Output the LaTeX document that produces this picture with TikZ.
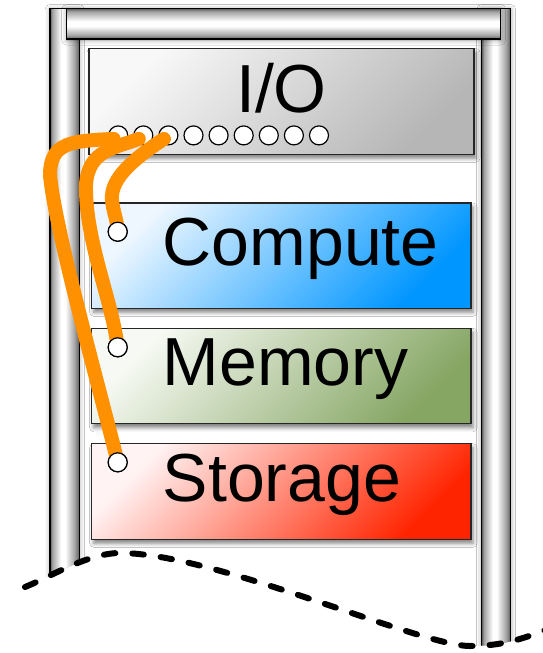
\documentclass[tikz,border=0pt]{standalone}
\usepackage{fontspec}
\setmainfont{Liberation Sans}
\usetikzlibrary{shadows.blur}

% colours
\definecolor{raildark}{gray}{0.36}
\definecolor{railmid}{gray}{0.64}
\definecolor{cableorange}{RGB}{255,145,0}
\definecolor{boxline}{RGB}{38,38,38}
\definecolor{ioLight}{RGB}{248,248,248}
\definecolor{ioDark}{RGB}{182,182,182}
\definecolor{cpLight}{RGB}{238,247,255}
\definecolor{cpDark}{RGB}{0,150,255}
\definecolor{memLight}{RGB}{247,250,244}
\definecolor{memDark}{RGB}{134,166,100}
\definecolor{stLight}{RGB}{255,243,243}
\definecolor{stDark}{RGB}{255,36,0}

% cylindrical look of the rack rails (interesting part is 25bp..75bp)
\pgfdeclarehorizontalshading{railx}{100bp}{color(0bp)=(raildark); color(25bp)=(raildark); color(29bp)=(railmid); color(44bp)=(white); color(51bp)=(white); color(67bp)=(railmid); color(75bp)=(raildark); color(100bp)=(raildark)}
\pgfdeclareverticalshading{raily}{100bp}{color(0bp)=(raildark); color(25bp)=(raildark); color(31bp)=(railmid); color(46bp)=(white); color(54bp)=(white); color(70bp)=(railmid); color(75bp)=(raildark); color(100bp)=(raildark)}

\begin{document}
\begin{tikzpicture}[x=1pt,y=-1pt,
  railpart/.style={draw=black, line width=1.3pt, shade},
  railshadow/.style={blur shadow={shadow xshift=0pt, shadow yshift=-1pt, shadow blur radius=5pt, shadow opacity=40}},
  module/.style={rectangle, draw=boxline, line width=1.4pt, inner sep=0pt,
    blur shadow={shadow xshift=2pt, shadow yshift=-4pt, shadow blur radius=4pt, shadow opacity=50}},
  port/.style={circle, draw=black, fill=white, line width=1.2pt, minimum size=19pt, inner sep=0pt},
  cable/.style={draw=cableorange, line width=14pt, line cap=round},
  modtext/.style={font=\fontsize{68}{80}\selectfont, inner sep=0pt, text=black},
  cutline/.style={draw=black, line width=6pt, line cap=round, dash pattern=on 11.5pt off 17pt}]

\useasboundingbox (0,0) rectangle (543,653);
\fill[white] (0,0) rectangle (543,653);

\begin{scope}
  % the rack is cut off along the wavy line
  \clip (0,0) -- (546,0) -- (546,630)
    .. controls (520,640) and (500,646) .. (470,646)
    .. controls (420,646) and (215,553) .. (120,553)
    .. controls (88,553) and (50,577) .. (25,587) -- (0,600) -- cycle;

  % back panel
  \fill[white] (79.3,39) rectangle (481.7,653);

  % rails and top bar
  \path[railpart, shading=railx, railshadow] (50,8.5) rectangle (79.3,653);
  \path[railpart, shading=railx, railshadow] (481.7,8.5) rectangle (510.7,653);
  \path[railpart, shading=raily, railshadow] (66.7,8.5) rectangle (500.7,39);

  % modules
  \node[module, minimum width=385pt, minimum height=105.8pt,
        top color=ioLight, bottom color=ioDark, shading angle=45] (io) at (281.5,101.4) {};
  \node[module, minimum width=379.3pt, minimum height=105.3pt,
        top color=cpLight, bottom color=cpDark, shading angle=45] (cp) at (281.35,255.65) {};
  \node[module, minimum width=379.3pt, minimum height=95.5pt,
        top color=memLight, bottom color=memDark, shading angle=45] (mem) at (281.35,376) {};
  \node[module, minimum width=379.3pt, minimum height=95.6pt,
        top color=stLight, bottom color=stDark, shading angle=45] (st) at (281.35,491.5) {};
\end{scope}

% labels
\node[modtext, anchor=base] (iotext) at (281.5,112.3) {I/O};
\node[modtext, anchor=base west] (cptext) at (162.6,265.9) {Compute};
\node[modtext, anchor=base west] (memtext) at (162.6,385) {Memory};
\node[modtext, anchor=base west] (sttext) at (162.6,501.9) {Storage};

% I/O ports
\foreach \i in {1,...,9}
  \node[port] (io\i) at ({118.2+25.1*(\i-1)},135.4) {};

% module ports
\node[port] (cpport) at (117.7,231.7) {};
\node[port] (memport) at (117.7,347.3) {};
\node[port] (stport) at (117.7,462.3) {};

% cables
\draw[cable] ([shift={(-4.5,3.5)}]io1.center)
  .. controls (72,141) and (50,142) .. (50,175)
  .. controls (55,230) and (100,390) .. (stport.center);
\draw[cable] ([shift={(-4.5,3.5)}]io2.center)
  .. controls (115,148) and (88,150) .. (86,185)
  .. controls (85,240) and (112,300) .. (memport.center);
\draw[cable] ([shift={(-4.5,3.5)}]io3.center)
  .. controls (135,158) and (110,178) .. (112,200)
  .. controls (113,212) and (117,218) .. (cpport.center);

% redraw module ports above the cable ends
\node[port] at (cpport.center) {};
\node[port] at (memport.center) {};
\node[port] at (stport.center) {};

% cut line
\draw[cutline] (25,587)
  .. controls (50,577) and (88,553) .. (120,553)
  .. controls (215,553) and (420,646) .. (470,646)
  .. controls (500,646) and (520,640) .. (548,629);
\end{tikzpicture}
\end{document}
